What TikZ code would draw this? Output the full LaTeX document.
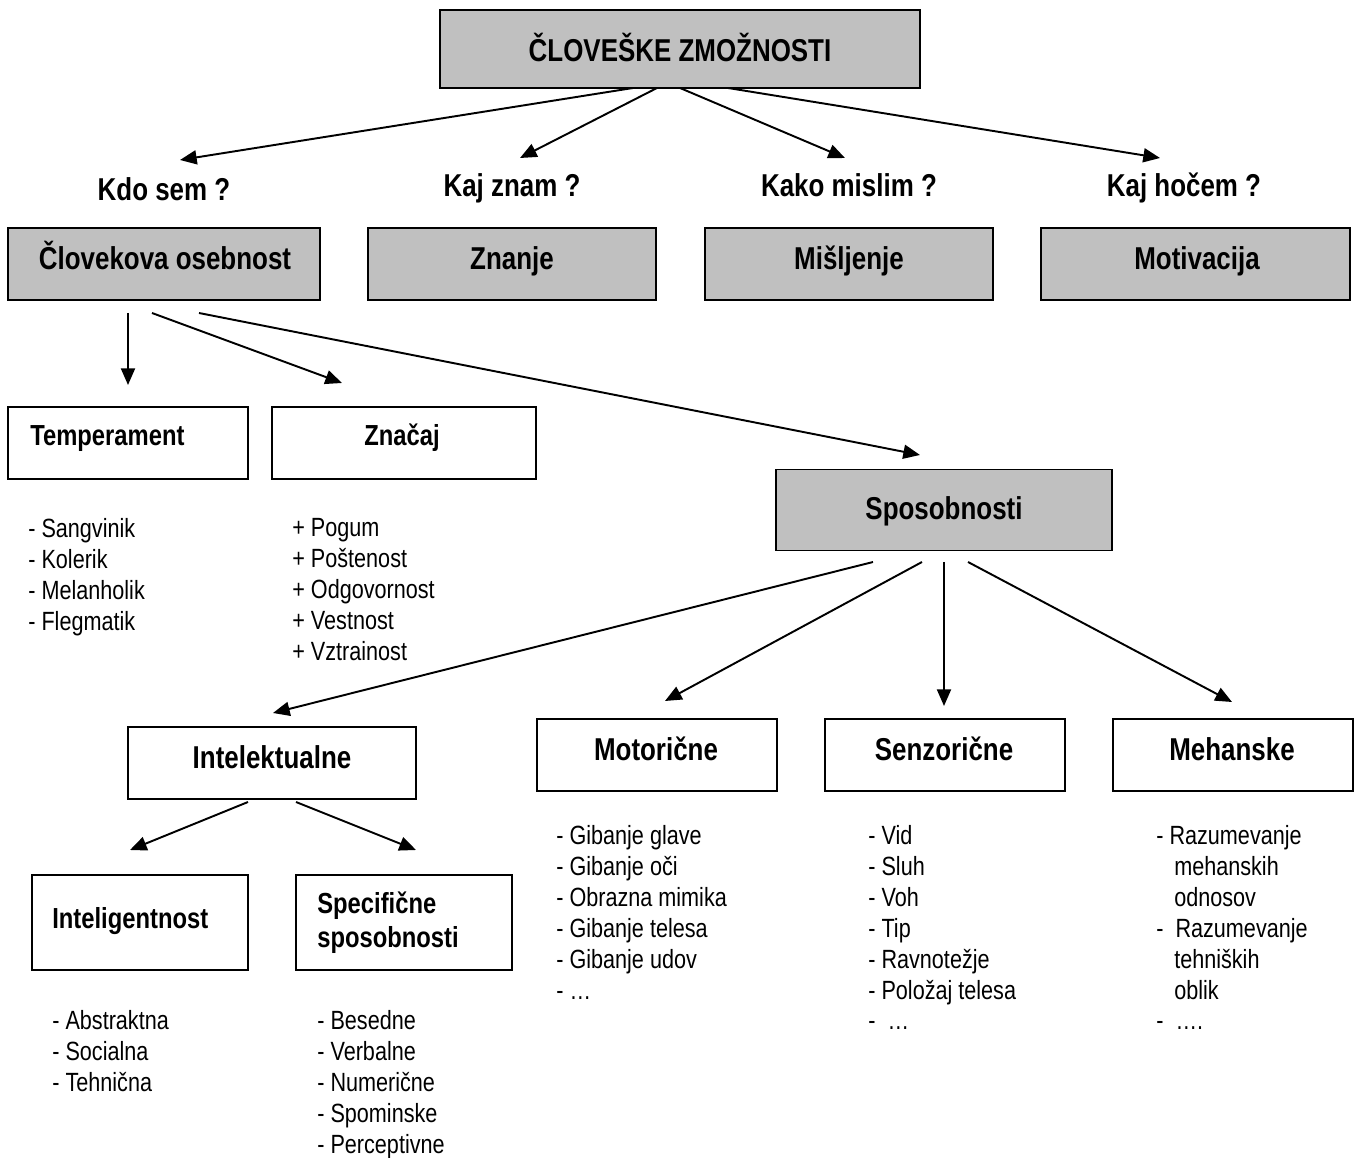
\documentclass[tikz,border=0pt]{standalone}
\usepackage{fontspec}
\setmainfont{Liberation Sans}[FakeStretch=0.82]
\usetikzlibrary{arrows.meta}
\definecolor{boxgray}{HTML}{C0C0C0}

\begin{document}
\begin{tikzpicture}[x=0.02cm, y=-0.02cm,
  box/.style={draw, line width=1.1pt, inner sep=0pt},
  grbox/.style={box, fill=boxgray},
  head/.style={font=\bfseries\fontsize{18}{21}\selectfont, inner sep=0pt, anchor=base},
  sub/.style={font=\bfseries\fontsize{16.5}{19.3}\selectfont, inner sep=0pt, align=left},
  lst/.style={font=\fontsize{15}{17.6}\selectfont, align=left, anchor=north west, inner sep=0pt},
  arr/.style={line width=1.1pt, -{Triangle[length=9.5pt,width=8pt]}}]
\useasboundingbox (0,0) rectangle (1356,1158);

% top
\node[grbox, minimum width=9.6cm, minimum height=1.56cm] (zmoz) at (680,49){};
\node[head] (tzmoz) at (680,62){ČLOVEŠKE ZMOŽNOSTI};

\node[head] (kdo) at (164,201){Kdo sem ?};
\node[head] (kajz) at (512,197){Kaj znam ?};
\node[head] (kako) at (849,197){Kako mislim ?};
\node[head] (kajh) at (1184,197){Kaj hočem ?};

\coordinate (z1) at (633,88);
\coordinate (z2) at (657,88);
\coordinate (z3) at (680,88);
\coordinate (z4) at (728,88);
\coordinate (q1) at (180,160);
\coordinate (q2) at (520,158);
\coordinate (q3) at (845,158);
\coordinate (q4) at (1160,158);
\draw[arr](z1) -- (q1);
\draw[arr](z2) -- (q2);
\draw[arr](z3) -- (q3);
\draw[arr](z4) -- (q4);

% second row
\node[grbox, minimum width=6.24cm, minimum height=1.44cm] (oseb) at (164,264){};
\node[head] (toseb) at (165,270){Človekova osebnost};
\node[grbox, minimum width=5.76cm, minimum height=1.44cm] (znan) at (512,264){};
\node[head] (tznan) at (512,270){Znanje};
\node[grbox, minimum width=5.76cm, minimum height=1.44cm] (misl) at (849,264){};
\node[head] (tmisl) at (849,270){Mišljenje};
\node[grbox, minimum width=6.18cm, minimum height=1.44cm] (motiv) at (1195.5,264){};
\node[head] (tmotiv) at (1197,270){Motivacija};

% osebnost
\coordinate (o1) at (128,313);
\coordinate (o2) at (152,313);
\coordinate (o3) at (199,313);
\coordinate (t1) at (128,385);
\coordinate (t2) at (342,383);
\coordinate (t3) at (920,455);
\draw[arr](o1) -- (t1);
\draw[arr](o2) -- (t2);
\draw[arr](o3) -- (t3);

\node[box, minimum width=4.8cm, minimum height=1.44cm] (temp) at (128,443){};
\node[sub, anchor=base west] (ttemp) at (30,446){Temperament};
\node[box, minimum width=5.28cm, minimum height=1.44cm] (znac) at (404,443){};
\node[sub, anchor=base] (tznac) at (402,446){Značaj};

\node[lst] (ltemp) at (28,518){- Sangvinik\\- Kolerik\\- Melanholik\\- Flegmatik};
\node[lst] (lznac) at (292,518){+ Pogum\\+ Poštenost\\+ Odgovornost\\+ Vestnost\\+ Vztrainost};

% sposobnosti
\node[grbox, minimum width=6.72cm, minimum height=1.62cm] (spos) at (944,510){};
\node[head] (tspos) at (944,520){Sposobnosti};

\coordinate (s1) at (873,562);
\coordinate (s2) at (922,562);
\coordinate (s3) at (944,562);
\coordinate (s4) at (968,562);
\coordinate (p1) at (273,713);
\coordinate (p2) at (665,701);
\coordinate (p3) at (944,706);
\coordinate (p4) at (1232,702);
\draw[arr](s1) -- (p1);
\draw[arr](s2) -- (p2);
\draw[arr](s3) -- (p3);
\draw[arr](s4) -- (p4);

\node[box, minimum width=5.76cm, minimum height=1.44cm] (intel) at (272,763){};
\node[head] (tintel) at (272,768){Intelektualne};
\node[box, minimum width=4.8cm, minimum height=1.44cm] (motor) at (657,755){};
\node[head] (tmotor) at (656,760){Motorične};
\node[box, minimum width=4.8cm, minimum height=1.44cm] (senz) at (945,755){};
\node[head] (tsenz) at (944,760){Senzorične};
\node[box, minimum width=4.8cm, minimum height=1.44cm] (meh) at (1233,755){};
\node[head] (tmeh) at (1232,760){Mehanske};

\node[lst] (lmotor) at (556,825){- Gibanje glave\\- Gibanje oči\\- Obrazna mimika\\- Gibanje telesa\\- Gibanje udov\\- …};
\node[lst] (lsenz) at (868,825){- Vid\\- Sluh\\- Voh\\- Tip\\- Ravnotežje\\- Položaj telesa\\-\ \ …};
\node[lst] (lmeh) at (1156,825){- Razumevanje\\\hspace*{10.2pt}mehanskih\\\hspace*{10.2pt}odnosov\\-\ \ Razumevanje\\\hspace*{10.2pt}tehniških\\\hspace*{10.2pt}oblik\\-\ \ ….};

% intelektualne
\coordinate (i1) at (248,802);
\coordinate (i2) at (296,802);
\coordinate (n1) at (130,850);
\coordinate (n2) at (416,850);
\draw[arr](i1) -- (n1);
\draw[arr](i2) -- (n2);

\node[box, minimum width=4.32cm, minimum height=1.9cm] (intg) at (140,922.5){};
\node[sub, anchor=base west] (tintg) at (52,928){Inteligentnost};
\node[box, minimum width=4.32cm, minimum height=1.9cm] (spec) at (404,922.5){};
\node[sub, anchor=west] (tspec) at (317,923){Specifične\\sposobnosti};

\node[lst] (lintg) at (52,1010){- Abstraktna\\- Socialna\\- Tehnična};
\node[lst] (lspec) at (317,1010){- Besedne\\- Verbalne\\- Numerične\\- Spominske\\- Perceptivne};

\end{tikzpicture}
\end{document}
